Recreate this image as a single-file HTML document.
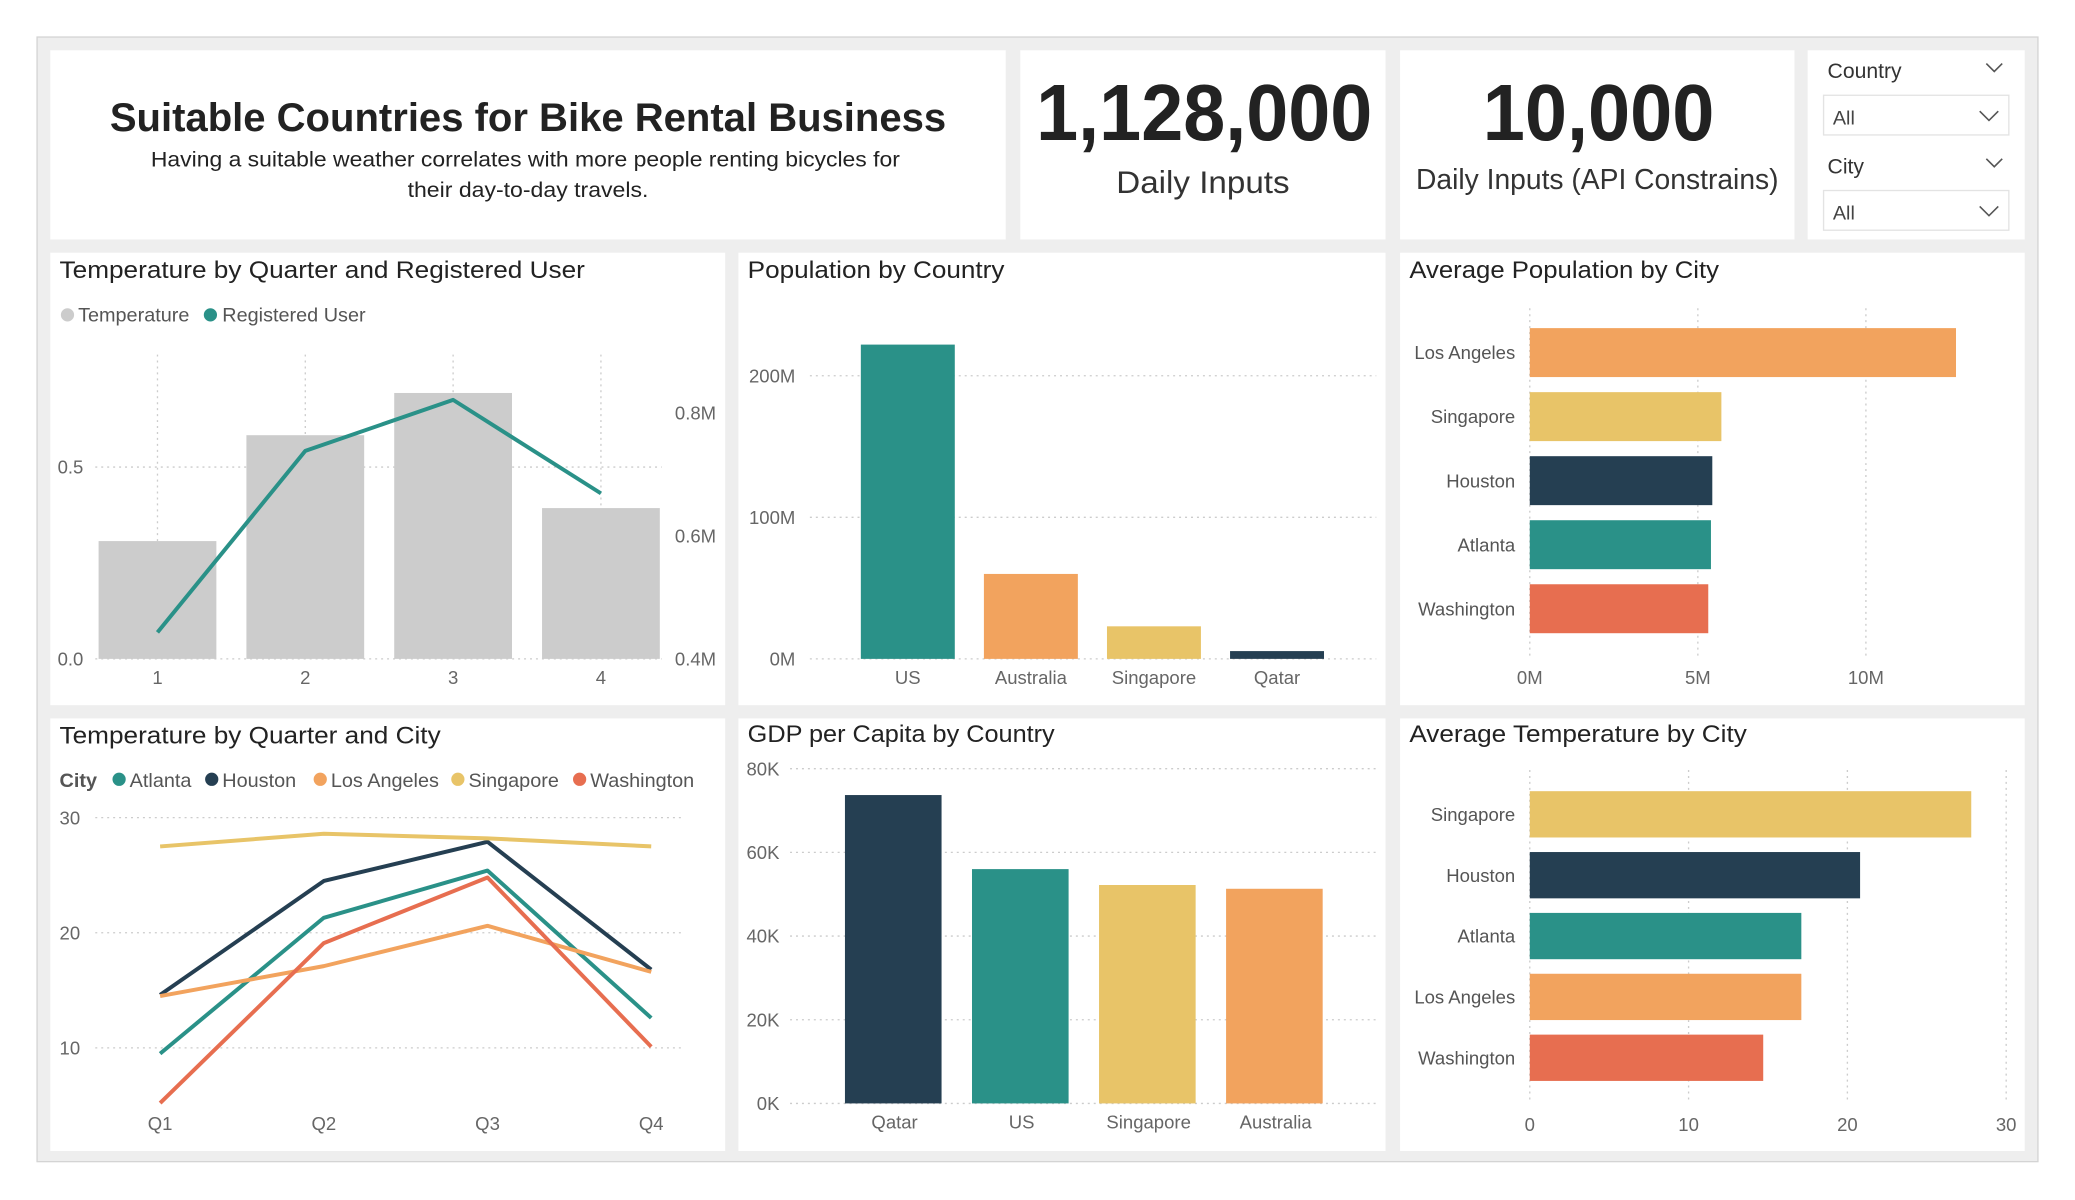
<!DOCTYPE html>
<html><head><meta charset="utf-8">
<style>
html,body{margin:0;padding:0;background:#fff;width:2075px;height:1200px;overflow:hidden}
svg{display:block;font-family:"Liberation Sans",sans-serif}
</style></head>
<body>
<svg id="dash" width="2075" height="1200" viewBox="0 0 1568 907" preserveAspectRatio="none" xmlns="http://www.w3.org/2000/svg">
<rect x="28" y="28" width="1512" height="850" fill="#eeeeee" stroke="#d4d4d4" stroke-width="1"/>
<rect x="38" y="38" width="722" height="143" fill="#fff"/>
<rect x="771" y="38" width="276" height="143" fill="#fff"/>
<rect x="1058" y="38" width="298" height="143" fill="#fff"/>
<rect x="1366" y="38" width="164" height="143" fill="#fff"/>
<rect x="38" y="191" width="510" height="342" fill="#fff"/>
<rect x="558" y="191" width="489" height="342" fill="#fff"/>
<rect x="1058" y="191" width="472" height="342" fill="#fff"/>
<rect x="38" y="543" width="510" height="327" fill="#fff"/>
<rect x="558" y="543" width="489" height="327" fill="#fff"/>
<rect x="1058" y="543" width="472" height="327" fill="#fff"/>

<text x="399" y="99" text-anchor="middle" font-size="30" font-weight="bold" fill="#222" textLength="632" lengthAdjust="spacingAndGlyphs">Suitable Countries for Bike Rental Business</text>
<text x="397" y="126" text-anchor="middle" font-size="16" fill="#222" textLength="566" lengthAdjust="spacingAndGlyphs">Having a suitable weather correlates with more people renting bicycles for</text>
<text x="399" y="149" text-anchor="middle" font-size="16" fill="#222" textLength="182" lengthAdjust="spacingAndGlyphs">their day-to-day travels.</text>

<text x="910" y="106" text-anchor="middle" font-size="60" font-weight="bold" fill="#222" textLength="254" lengthAdjust="spacingAndGlyphs">1,128,000</text>
<text x="909" y="146" text-anchor="middle" font-size="24" fill="#333" textLength="131" lengthAdjust="spacingAndGlyphs">Daily Inputs</text>
<text x="1208" y="106" text-anchor="middle" font-size="60" font-weight="bold" fill="#222" textLength="175" lengthAdjust="spacingAndGlyphs">10,000</text>
<text x="1207" y="143" text-anchor="middle" font-size="22" fill="#333" textLength="274" lengthAdjust="spacingAndGlyphs">Daily Inputs (API Constrains)</text>

<g>
<text x="1381" y="59" font-size="16" fill="#333">Country</text>
<path d="M1501 48 l6 6 l6 -6" fill="none" stroke="#555" stroke-width="1.2"/>
<rect x="1378" y="72" width="140" height="30" fill="#fff" stroke="#e3e3e3"/>
<text x="1385" y="94" font-size="15" fill="#444">All</text>
<path d="M1496 84 l7 7 l7 -7" fill="none" stroke="#555" stroke-width="1.2"/>
</g>
<g>
<text x="1381" y="131" font-size="16" fill="#333">City</text>
<path d="M1501 120 l6 6 l6 -6" fill="none" stroke="#555" stroke-width="1.2"/>
<rect x="1378" y="144" width="140" height="30" fill="#fff" stroke="#e3e3e3"/>
<text x="1385" y="166" font-size="15" fill="#444">All</text>
<path d="M1496 156 l7 7 l7 -7" fill="none" stroke="#555" stroke-width="1.2"/>
</g>

<text x="45" y="210" font-size="18" fill="#222" textLength="397" lengthAdjust="spacingAndGlyphs">Temperature by Quarter and Registered User</text>
<text x="565" y="210" font-size="18" fill="#222" textLength="194" lengthAdjust="spacingAndGlyphs">Population by Country</text>
<text x="1065" y="210" font-size="18" fill="#222" textLength="234" lengthAdjust="spacingAndGlyphs">Average Population by City</text>
<text x="45" y="562" font-size="18" fill="#222" textLength="288" lengthAdjust="spacingAndGlyphs">Temperature by Quarter and City</text>
<text x="565" y="561" font-size="18" fill="#222" textLength="232" lengthAdjust="spacingAndGlyphs">GDP per Capita by Country</text>
<text x="1065" y="561" font-size="18" fill="#222" textLength="255" lengthAdjust="spacingAndGlyphs">Average Temperature by City</text>

<g id="c1"></g>
<g id="c2"></g>
<g id="c3"></g>
<g id="c4"></g>
<g id="c5"></g>
<g id="c6"></g>
</svg>
<script>
// Chart 1
const quarters1 = ["1","2","3","4"];
const temperatureVals = [0.307, 0.583, 0.693, 0.393];
const registeredUserVals = [0.443, 0.738, 0.821, 0.669];
const leftTicks1 = [0, 0.5];
const leftTickLabels1 = ["0.0","0.5"];
const rightTicks1 = [0.4, 0.6, 0.8];
const rightTickLabels1 = ["0.4M","0.6M","0.8M"];
// Chart 2
const countries2 = ["US","Australia","Singapore","Qatar"];
const population2 = [222, 60, 23, 5.5];
const popTicks2 = [0, 100, 200];
const popTickLabels2 = ["0M","100M","200M"];
// Chart 3
const cities3 = ["Los Angeles","Singapore","Houston","Atlanta","Washington"];
const avgPop3 = [12.68, 5.7, 5.43, 5.39, 5.31];
const popTicks3 = [0, 5, 10];
const popTickLabels3 = ["0M","5M","10M"];
// Chart 4
const quarters4 = ["Q1","Q2","Q3","Q4"];
const cityNames4 = ["Atlanta","Houston","Los Angeles","Singapore","Washington"];
const atlantaTemps = [9.5, 21.3, 25.4, 12.6];
const houstonTemps = [14.6, 24.5, 27.9, 16.8];
const losAngelesTemps = [14.5, 17.1, 20.6, 16.6];
const singaporeTemps = [27.5, 28.6, 28.2, 27.5];
const washingtonTemps = [5.2, 19.1, 24.8, 10.1];
const tempTicks4 = [10, 20, 30];
// Chart 5
const countries5 = ["Qatar","US","Singapore","Australia"];
const gdp5 = [73.7, 56, 52.2, 51.3];
const gdpTicks5 = [0, 20, 40, 60, 80];
const gdpTickLabels5 = ["0K","20K","40K","60K","80K"];
// Chart 6
const cities6 = ["Singapore","Houston","Atlanta","Los Angeles","Washington"];
const avgTemp6 = [27.8, 20.8, 17.1, 17.1, 14.7];
const tempTicks6 = [0, 10, 20, 30];

const NS = "http://www.w3.org/2000/svg";
const C = {teal:"#2a9188", navy:"#253f52", orange:"#f2a35e", yellow:"#e8c468", red:"#e76e50", gray:"#cccccc"};
function mk(parent, tag, attrs){
  const el = document.createElementNS(NS, tag);
  for (const k in attrs) el.setAttribute(k, attrs[k]);
  parent.appendChild(el);
  return el;
}
function txt(parent, x, y, s, size, fill, anchor){
  const t = mk(parent, "text", {x:x, y:y, "font-size":size, fill:fill, "text-anchor":anchor||"start"});
  t.textContent = s;
  return t;
}
const dot = "1.5 3";

// ---- Chart 1
(function(){
  const g = document.getElementById("c1");
  const y0 = 498, yL = v => y0 - v * 290;
  const yR = v => y0 - (v - 0.4) / 0.2 * 93;
  const xC = i => 119 + i * 111.7;
  let c = mk(g, "circle", {cx:51, cy:238, r:5, fill:C.gray});
  
  
  let t = txt(g, 59, 243, "Temperature", 15, "#555");
  
  
  c = mk(g, "circle", {cx:159, cy:238, r:5, fill:C.teal});
  
  
  t = txt(g, 168, 243, "Registered User", 15, "#555");
  
  
  leftTicks1.forEach((v, i) => {
    const l = mk(g, "line", {x1:72, x2:500, y1:yL(v), y2:yL(v), stroke:"#ccc", "stroke-dasharray":dot});
    
    
    const tt = txt(g, 63, yL(v) + 5, leftTickLabels1[i], 14, "#666", "end");
    
    
  });
  rightTicks1.forEach((v, i) => {
    const tt = txt(g, 510, yR(v) + 5, rightTickLabels1[i], 14, "#666", "start");
    
    
  });
  quarters1.forEach((q, i) => {
    const l = mk(g, "line", {x1:xC(i), x2:xC(i), y1:268, y2:y0, stroke:"#ccc", "stroke-dasharray":dot});
    
    
  });
  quarters1.forEach((q, i) => {
    const b = mk(g, "rect", {x:xC(i) - 44.5, y:yL(temperatureVals[i]), width:89, height:y0 - yL(temperatureVals[i]), fill:C.gray});
    
    
    const tt = txt(g, xC(i), 517, q, 14, "#666", "middle");
    
    
  });
  const pts = registeredUserVals.map((v, i) => xC(i) + "," + yR(v)).join(" ");
  const pl = mk(g, "polyline", {points:pts, fill:"none", stroke:C.teal, "stroke-width":3, "stroke-linejoin":"round"});
  
  
})();

// ---- Chart 2
(function(){
  const g = document.getElementById("c2");
  const y0 = 498, y = v => y0 - v * 1.07;
  const xC = i => 686 + i * 93;
  popTicks2.forEach((v, i) => {
    const l = mk(g, "line", {x1:612, x2:1040, y1:y(v), y2:y(v), stroke:"#ccc", "stroke-dasharray":dot});
    
    
    const tt = txt(g, 601, y(v) + 5, popTickLabels2[i], 14, "#666", "end");
    
    
  });
  const cols = [C.teal, C.orange, C.yellow, C.navy];
  countries2.forEach((c, i) => {
    const b = mk(g, "rect", {x:xC(i) - 35.5, y:y(population2[i]), width:71, height:y0 - y(population2[i]), fill:cols[i]});
    
    
    const tt = txt(g, xC(i), 517, c, 14, "#666", "middle");
    
    
  });
})();

// ---- Chart 3
(function(){
  const g = document.getElementById("c3");
  const x0 = 1156, x = v => x0 + v * 25.4;
  const yC = i => 266.5 + i * 48.4;
  popTicks3.forEach((v, i) => {
    const l = mk(g, "line", {x1:x(v), x2:x(v), y1:233, y2:497, stroke:"#ccc", "stroke-dasharray":dot});
    
    
    const tt = txt(g, x(v), 517, popTickLabels3[i], 14, "#666", "middle");
    
    
  });
  const cols = [C.orange, C.yellow, C.navy, C.teal, C.red];
  cities3.forEach((c, i) => {
    const b = mk(g, "rect", {x:x0, y:yC(i) - 18.5, width:x(avgPop3[i]) - x0, height:37, fill:cols[i]});
    
    
    const tt = txt(g, 1145, yC(i) + 5, c, 14, "#555", "end");
    
    
  });
})();

// ---- Chart 4
(function(){
  const g = document.getElementById("c4");
  const y = v => 618 + (30 - v) * 8.7;
  const xC = i => 121 + i * 123.7;
  const series = [atlantaTemps, houstonTemps, losAngelesTemps, singaporeTemps, washingtonTemps];
  const cols = [C.teal, C.navy, C.orange, C.yellow, C.red];
  let t = mk(g, "text", {x:45, y:595, "font-size":15, "font-weight":"bold", fill:"#555"});
  t.textContent = "City";
  
  
  const lx = [90, 160, 242, 346, 438];
  cityNames4.forEach((n, i) => {
    const c = mk(g, "circle", {cx:lx[i], cy:589, r:5, fill:cols[i]});
    
    
    const tt = txt(g, lx[i] + 8, 595, n, 15, "#555");
    
    
  });
  tempTicks4.forEach(v => {
    const l = mk(g, "line", {x1:72, x2:517, y1:y(v), y2:y(v), stroke:"#ccc", "stroke-dasharray":dot});
    
    
    const tt = txt(g, 45, y(v) + 5, String(v), 14, "#666", "start");
    
    
  });
  quarters4.forEach((q, i) => {
    const tt = txt(g, xC(i), 854, q, 14, "#666", "middle");
    
    
  });
  series.forEach((s, k) => {
    const pts = s.map((v, i) => xC(i) + "," + y(v)).join(" ");
    const pl = mk(g, "polyline", {points:pts, fill:"none", stroke:cols[k], "stroke-width":3, "stroke-linejoin":"round"});
    
    
  });
})();

// ---- Chart 5
(function(){
  const g = document.getElementById("c5");
  const y0 = 834, y = v => y0 - v * 3.1625;
  const xC = i => 675 + i * 96;
  gdpTicks5.forEach((v, i) => {
    const l = mk(g, "line", {x1:597, x2:1040, y1:y(v), y2:y(v), stroke:"#ccc", "stroke-dasharray":dot});
    
    
    const tt = txt(g, 589, y(v) + 5, gdpTickLabels5[i], 14, "#666", "end");
    
    
  });
  const cols = [C.navy, C.teal, C.yellow, C.orange];
  countries5.forEach((c, i) => {
    const b = mk(g, "rect", {x:xC(i) - 36.5, y:y(gdp5[i]), width:73, height:y0 - y(gdp5[i]), fill:cols[i]});
    
    
    const tt = txt(g, xC(i) + 1, 853, c, 14, "#666", "middle");
    
    
  });
})();

// ---- Chart 6
(function(){
  const g = document.getElementById("c6");
  const x0 = 1156, x = v => x0 + v * 12;
  const yC = i => 615.5 + i * 46;
  tempTicks6.forEach(v => {
    const l = mk(g, "line", {x1:x(v), x2:x(v), y1:582, y2:834, stroke:"#ccc", "stroke-dasharray":dot});
    
    
    const tt = txt(g, x(v), 855, String(v), 14, "#666", "middle");
    
    
  });
  const cols = [C.yellow, C.navy, C.teal, C.orange, C.red];
  cities6.forEach((c, i) => {
    const b = mk(g, "rect", {x:x0, y:yC(i) - 17.5, width:x(avgTemp6[i]) - x0, height:35, fill:cols[i]});
    
    
    const tt = txt(g, 1145, yC(i) + 5, c, 14, "#555", "end");
    
    
  });
})();
</script>
</body></html>
